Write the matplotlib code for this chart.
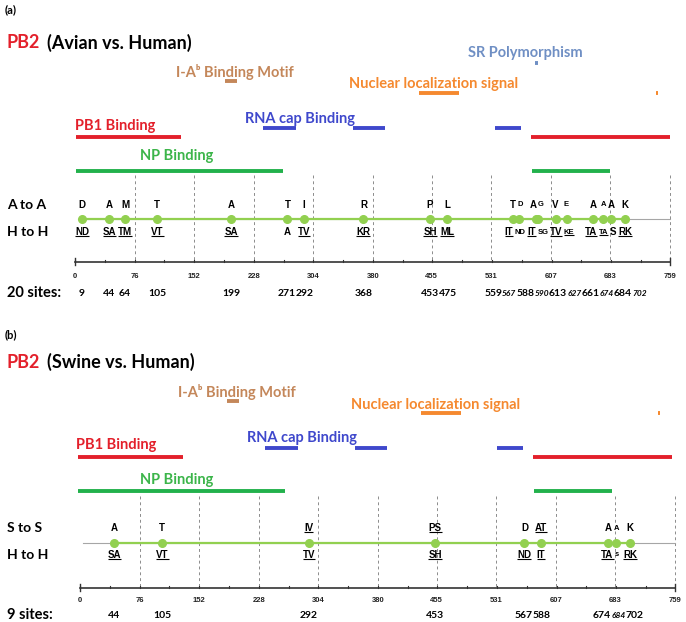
import matplotlib
matplotlib.use("Agg")
import matplotlib.pyplot as plt

plt.rcParams['font.family'] = ['Lato', 'DejaVu Sans']

PX = 595 / 759  # pixels per residue on the drawn axis

# functional regions of PB2 (residue ranges), shared by both panels
pb1_binding = [(1, 135), (582, 759)]
np_binding = [(1, 265), (583, 683)]
rna_cap_binding = [(240, 282), (355, 395), (536, 569)]
iab_motif = [(191, 207)]
nls_signal = [(439, 490), (741, 744)]
sr_polymorphism = [(587, 590)]

ticks = [0, 76, 152, 228, 304, 380, 455, 531, 607, 683, 759]

# (a) avian vs human
sites_a = [9, 44, 64, 105, 199, 271, 292, 368, 453, 475,
           559, 567, 588, 590, 613, 627, 661, 674, 684, 702]
avian_a = ['D', 'A', 'M', 'T', 'A', 'T', 'I', 'R', 'P', 'L',
           'T', 'D', 'A', 'G', 'V', 'E', 'A', 'A', 'A', 'K']
human_a = ['ND', 'SA', 'TM', 'VT', 'SA', 'A', 'TV', 'KR', 'SH', 'ML',
           'IT', 'ND', 'IT', 'SG', 'TV', 'KE', 'TA', 'TA', 'S', 'RK']
small_res_a = [567, 590, 627, 674]
small_num_a = [567, 590, 627, 674, 702]
plain_a = [271, 567, 590, 684]

# (b) swine vs human
sites_b = [44, 105, 292, 453, 567, 588, 674, 684, 702]
swine_b = ['A', 'T', 'IV', 'PS', 'D', 'AT', 'A', 'A', 'K']
human_b = ['SA', 'VT', 'TV', 'SH', 'ND', 'IT', 'TA', 's', 'RK']
small_res_b = [684]
small_num_b = [684]
plain_b = []

RED = '#E3202B'
BLUE = '#3F48CC'
GREEN = '#22B14C'
BROWN = '#C4875A'
ORANGE = '#F5892F'
STEEL = '#6F8FC4'
LIME = '#92D050'

fig = plt.figure(figsize=(6.86, 6.22), dpi=100)
renderer = fig.canvas.get_renderer()


def spread(xs, widths, gap):
    pos = list(xs)
    for _ in range(300):
        moved = False
        for i in range(len(pos) - 1):
            need = (widths[i] + widths[i + 1]) / 2 + gap
            d = pos[i + 1] - pos[i]
            if d < need - 1e-6:
                s = (need - d) / 2
                pos[i] -= s
                pos[i + 1] += s
                moved = True
        if not moved:
            break
    return pos


def row(ax, sites, labels, y, small, font, size, small_size, style='normal', gap=1.5):
    texts = []
    for s, lab in zip(sites, labels):
        sz = small_size if s in small else size
        st = 'italic' if (s in small and style == 'italic') else 'normal'
        texts.append(ax.text(s, y, lab, ha='center', va='center', fontsize=sz,
                             fontweight='bold', family=font, style=st))
    widths = [t.get_window_extent(renderer).width / PX for t in texts]
    pos = spread(sites, widths, gap / PX)
    for t, p in zip(texts, pos):
        t.set_x(p)
    return texts


def underline(ax, t):
    bb = t.get_window_extent(renderer)
    inv = ax.transData.inverted()
    (x0, y0), (x1, _) = inv.transform([(bb.x0, bb.y0 + 1.0), (bb.x1, bb.y0 + 1.0)])
    ax.plot([x0, x1], [y0, y0], color='black', lw=0.8, solid_capstyle='butt')


def new_axes(x0):
    ax = fig.add_axes([0, 0, 1, 1])
    ax.patch.set_alpha(0)
    ax.set_xlim(-x0 / PX, (686 - x0) / PX)
    ax.set_ylim(622, 0)
    ax.axis('off')
    return ax


def panel(lay, tag, host, row_label, n_label, sites, top, bottom,
          small_res, small_num, plain, underline_top, show_sr):
    ax = new_axes(lay['x0'])
    fax = new_axes(lay['fx0'])
    px = lambda p: (p - lay['x0']) / PX
    fpx = lambda p: (p - lay['fx0']) / PX

    ax.text(px(5), lay['tag'], tag, fontsize=8, fontweight='bold', va='center')
    ax.text(px(7), lay['title'], 'PB2', fontsize=13, fontweight='bold', color=RED, va='center')
    ax.text(px(47), lay['title'], host, fontsize=13, fontweight='bold', va='center')

    feats = [('PB1 Binding', pb1_binding, RED, 'pb1'),
             ('NP Binding', np_binding, GREEN, 'np'),
             ('RNA cap Binding', rna_cap_binding, BLUE, 'rna'),
             ('I-A\u1d47 Binding Motif', iab_motif, BROWN, 'iab'),
             ('Nuclear localization signal', nls_signal, ORANGE, 'nls')]
    if show_sr:
        feats.append(('SR Polymorphism', sr_polymorphism, STEEL, 'sr'))
    for name, ranges, col, key in feats:
        tx, ty, by = lay[key]
        tcol = '#3CB54A' if key == 'np' else col
        fax.text(fpx(tx), ty, name, ha='center', va='center', fontsize=10.5,
                 fontweight='bold', color=tcol)
        for s, e in ranges:
            fax.plot([s, e], [by, by], color=col, lw=2.8, solid_capstyle='butt')

    # dashed guides and axis
    for t in ticks[1:]:
        ax.plot([t, t], [lay['dash'], lay['axis']], color='#8C8C8C', lw=0.7,
                linestyle=(0, (3, 3)))
    ax.plot([0, 759], [lay['axis'], lay['axis']], color='#333333', lw=1.2)
    for t in range(0, 760, 38):
        ax.plot([t, t], [lay['axis'] - 2, lay['axis']], color='#333333', lw=0.8)
    for t in (0, 759):
        ax.plot([t, t], [lay['axis'] - 4, lay['axis'] + 3], color='#333333', lw=1.0)
    for t in ticks:
        ax.text(t, lay['ticklab'], str(t), ha='center', va='center', fontsize=5.5,
                fontweight='bold', family='Liberation Sans', color='#222222')

    # sequence line and sites
    ax.plot([4, 759], [lay['dots'], lay['dots']], color='#A6A6A6', lw=0.8)
    ax.plot([min(sites), max(sites)], [lay['dots'], lay['dots']], color=LIME, lw=1.6)
    ax.plot(sites, [lay['dots']] * len(sites), 'o', color=LIME, ms=5.5, mec=LIME)

    ax.text(px(7), lay['top'], row_label, fontsize=10, fontweight='bold', va='center')
    ax.text(px(7), lay['bot'], 'H to H', fontsize=10, fontweight='bold', va='center')
    ax.text(px(7), lay['nums'], n_label, fontsize=10.5, fontweight='bold', va='center')

    top_t = row(ax, sites, top, lay['top'], small_res, 'Liberation Sans', 7, 5.5)
    bot_t = row(ax, sites, bottom, lay['bot'], small_res, 'Liberation Sans', 7, 5.5)
    row(ax, sites, [str(s) for s in sites], lay['nums'], small_num, 'Lato', 7.5, 6,
        style='italic', gap=0)

    for s, t in zip(sites, bot_t):
        if len(t.get_text()) == 2 and s not in plain:
            underline(ax, t)
    if underline_top:
        for t in top_t:
            if len(t.get_text()) == 2:
                underline(ax, t)


lay_a = dict(x0=75, fx0=75, tag=10, title=43, sr=(525, 53, 63), iab=(235, 72, 81),
             nls=(434, 84, 93), rna=(300, 119, 128), pb1=(115, 126, 137),
             np=(177, 156, 171), dash=175, top=205, dots=219, bot=232,
             axis=262, ticklab=276, nums=293)
lay_b = dict(x0=80, fx0=77, tag=335, title=362, iab=(237, 392, 401),
             nls=(436, 405, 413), rna=(302, 438, 448), pb1=(116, 445, 457),
             np=(177, 480, 491), dash=496, top=528, dots=543, bot=555,
             axis=588, ticklab=600, nums=615)

panel(lay_a, '(a)', '(Avian vs. Human)', 'A to A', '20 sites:', sites_a,
      avian_a, human_a, small_res_a, small_num_a, plain_a, False, True)
panel(lay_b, '(b)', '(Swine vs. Human)', 'S to S', '9 sites:', sites_b,
      swine_b, human_b, small_res_b, small_num_b, plain_b, True, False)

fig.savefig('out.png', dpi=100)
